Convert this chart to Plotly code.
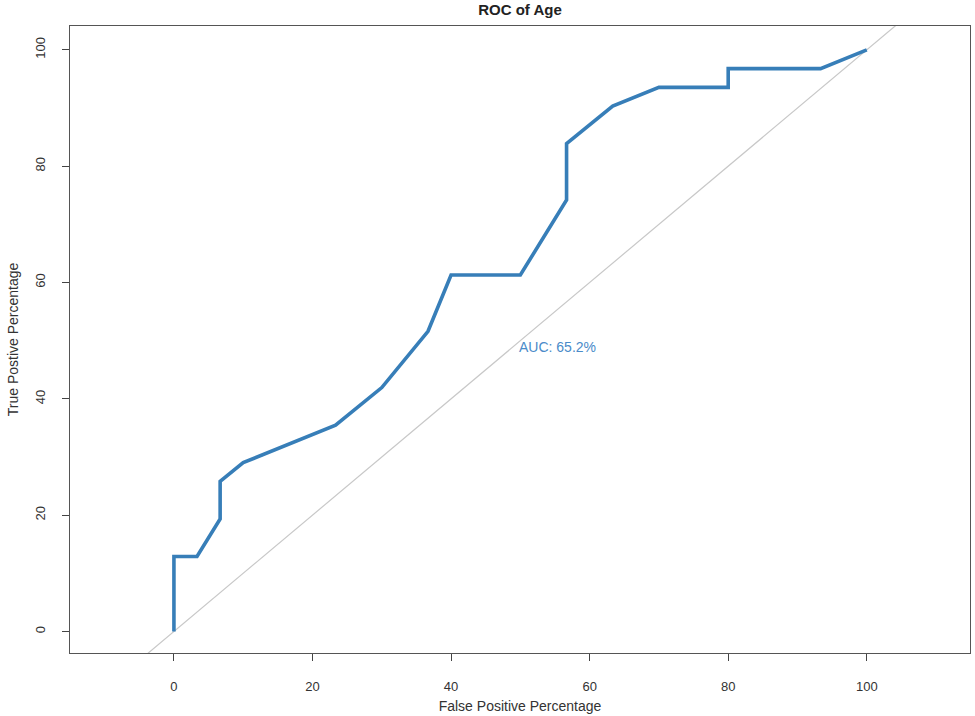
import plotly.graph_objects as go

# ROC curve points (percent)
fpr = [0, 0, 3.33, 6.67, 6.67, 10.0, 23.33, 30.0, 36.67, 40.0, 50.0,
       56.67, 56.67, 63.33, 70.0, 80.0, 80.0, 93.33, 100]
tpr = [0, 12.90, 12.90, 19.35, 25.81, 29.03, 35.48, 41.94, 51.61, 61.29, 61.29,
       74.19, 83.87, 90.32, 93.55, 93.55, 96.77, 96.77, 100]
diag = [-20, 130]
tick_vals = [0, 20, 40, 60, 80, 100]
auc_text = "AUC: 65.2%"

FONT = "Liberation Sans, Arial, Helvetica, sans-serif"

fig = go.Figure()
fig.add_trace(go.Scatter(x=diag, y=diag, mode="lines",
                         line=dict(color="#c8c8c8", width=1.2),
                         hoverinfo="skip", showlegend=False))
fig.add_trace(go.Scatter(x=fpr, y=tpr, mode="lines",
                         line=dict(color="#377eb8", width=3.6),
                         showlegend=False))
fig.add_annotation(x=50, y=50, text=auc_text, showarrow=False,
                   xanchor="left", yanchor="top", xshift=-3, yshift=4,
                   font=dict(family=FONT, size=14, color="#4a8bc9"))

fig.update_layout(
    width=975, height=716,
    margin=dict(l=70, r=5, t=26, b=63, autoexpand=False),
    paper_bgcolor="white", plot_bgcolor="white",
    font=dict(family=FONT, size=13, color="#333333"),
    title=dict(text="<b>ROC of Age</b>", x=0.5, xref="paper", xanchor="center",
               y=0.986, yanchor="middle", yref="container",
               font=dict(family=FONT, size=15, color="#222222")),
)
fig.update_xaxes(range=[-15.0, 114.9], tickvals=tick_vals, ticks="outside",
                 ticklen=7, tickcolor="#444444", showgrid=False, zeroline=False,
                 showline=True, mirror=True, linecolor="#555555", linewidth=1.2,
                 automargin=False, ticklabelstandoff=14,
                 title=dict(text="False Positive Percentage", standoff=8,
                            font=dict(size=14, color="#333333")),
                 tickfont=dict(size=13, color="#333333"))
fig.update_yaxes(range=[-3.7, 104.1], tickvals=tick_vals, ticks="outside",
                 ticklen=7, tickcolor="#444444", showgrid=False, zeroline=False,
                 showline=True, mirror=True, linecolor="#555555", linewidth=1.2,
                 tickangle=-90, automargin=False, ticklabelstandoff=12,
                 title=dict(text="True Postive Percentage", standoff=10,
                            font=dict(size=14, color="#333333")),
                 tickfont=dict(size=13, color="#333333"))

fig.write_html("out.html", config={"displayModeBar": False},
               post_script="document.body.style.margin='0';"
                           "document.body.style.overflow='hidden';")
